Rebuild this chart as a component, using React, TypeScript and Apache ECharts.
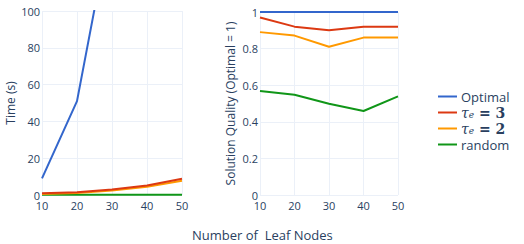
import React, { useEffect, useRef } from "react";
import * as echarts from "echarts";

const leafNodes = [10, 20, 30, 40, 50];
const timeOptimal = [9, 51, 151, 450, 1200];
const timeTau3 = [0.9, 1.5, 3.0, 5.2, 8.8];
const timeTau2 = [0.6, 1.1, 2.4, 4.5, 7.8];
const timeRandom = [0.2, 0.2, 0.2, 0.2, 0.2];
const qualOptimal = [1, 1, 1, 1, 1];
const qualTau3 = [0.97, 0.92, 0.9, 0.92, 0.92];
const qualTau2 = [0.89, 0.871, 0.81, 0.86, 0.86];
const qualRandom = [0.568, 0.548, 0.499, 0.459, 0.539];
const seriesNames = ["Optimal", "τₑ = 3", "τₑ = 2", "random"];
const colors = ["#3366CC", "#DC3912", "#FF9900", "#109618"];

const FONT = "'Open Sans', 'Noto Sans', sans-serif";
const TXT = "#2a3f5f";
const GRID = "#EBF0F8";

export default function App() {
  const ref = useRef<HTMLDivElement>(null);
  useEffect(() => {
    const chart = echarts.init(ref.current!, null, { renderer: "svg" });
    const pair = (x: number[], y: number[]) => x.map((v, i) => [v, y[i]]);
    const timeData = [timeOptimal, timeTau3, timeTau2, timeRandom];
    const qualData = [qualOptimal, qualTau3, qualTau2, qualRandom];
    const xAxisCommon = {
      type: "value",
      min: 10,
      max: 50,
      interval: 10,
      axisLine: { show: false },
      axisTick: { show: false },
      axisLabel: { color: TXT, fontFamily: FONT, fontSize: 11, margin: 5 },
      splitLine: { lineStyle: { color: GRID, width: 1 } },
    };
    const yLabel = { color: TXT, fontFamily: FONT, fontSize: 11, margin: 2 };
    const series: any[] = [];
    seriesNames.forEach((n, i) => {
      series.push({
        name: n,
        type: "line",
        xAxisIndex: 0,
        yAxisIndex: 0,
        data: pair(leafNodes, timeData[i]),
        showSymbol: false,
        symbol: "none",
        clip: true,
        lineStyle: { width: 2, color: colors[i] },
        itemStyle: { color: colors[i] },
        z: 10 - i,
      });
      series.push({
        name: n,
        type: "line",
        xAxisIndex: 1,
        yAxisIndex: 1,
        data: pair(leafNodes, qualData[i]),
        showSymbol: false,
        symbol: "none",
        clip: false,
        lineStyle: { width: 2, color: colors[i] },
        itemStyle: { color: colors[i] },
        z: 10 - i,
      });
    });
    chart.setOption({
      animation: false,
      backgroundColor: "#ffffff",
      grid: [
        { left: 42, width: 140, top: 11, bottom: 49 },
        { left: 260, width: 138, top: 12, bottom: 49 },
      ],
      xAxis: [
        { ...xAxisCommon, gridIndex: 0 },
        { ...xAxisCommon, gridIndex: 1 },
      ],
      yAxis: [
        {
          type: "value",
          gridIndex: 0,
          min: 0,
          max: 100,
          interval: 20,
          axisLine: { show: false },
          axisTick: { show: false },
          axisLabel: yLabel,
          splitLine: { lineStyle: { color: GRID, width: 1 } },
          name: "Time (s)",
          nameLocation: "middle",
          nameGap: 26,
          nameTextStyle: { color: TXT, fontFamily: FONT, fontSize: 12 },
        },
        {
          type: "value",
          gridIndex: 1,
          min: 0,
          max: 1,
          interval: 0.2,
          axisLine: { show: false },
          axisTick: { show: false },
          axisLabel: yLabel,
          splitLine: { lineStyle: { color: GRID, width: 1 } },
          name: "Solution Quality (Optimal = 1)",
          nameLocation: "middle",
          nameGap: 24,
          nameTextStyle: { color: TXT, fontFamily: FONT, fontSize: 12 },
        },
      ],
      legend: {
        orient: "vertical",
        left: 433,
        top: 84,
        icon: "rect",
        itemWidth: 19,
        itemHeight: 2,
        itemGap: 1,
        data: seriesNames,
        formatter: (name: string) => {
          if (name === "τₑ = 3") return "{t|τ}{s|e}{m| = 3}";
          if (name === "τₑ = 2") return "{t|τ}{s|e}{m| = 2}";
          return name;
        },
        textStyle: {
          color: TXT,
          fontFamily: FONT,
          fontSize: 13,
          lineHeight: 15,
          padding: [0, 0, 0, -1],
          rich: {
            t: { fontFamily: "'DejaVu Serif', serif", fontStyle: "italic", fontSize: 14, color: TXT, lineHeight: 15 },
            s: { fontFamily: "'DejaVu Serif', serif", fontStyle: "italic", fontSize: 9, color: TXT, padding: [5, 0, 0, 0], lineHeight: 15 },
            m: { fontFamily: "'DejaVu Serif', serif", fontWeight: "bold", fontSize: 14, color: TXT, lineHeight: 15 },
          },
        },
      },
      graphic: [
        {
          type: "text",
          left: 192,
          top: 228,
          style: {
            text: "Number of  Leaf Nodes",
            fill: TXT,
            font: `13px ${FONT}`,
          },
        },
      ],
      series,
    });
    return () => chart.dispose();
  }, []);
  return (
    <div
      ref={ref}
      style={{ position: "fixed", left: 0, top: 0, width: 524, height: 244, background: "#fff" }}
    />
  );
}
